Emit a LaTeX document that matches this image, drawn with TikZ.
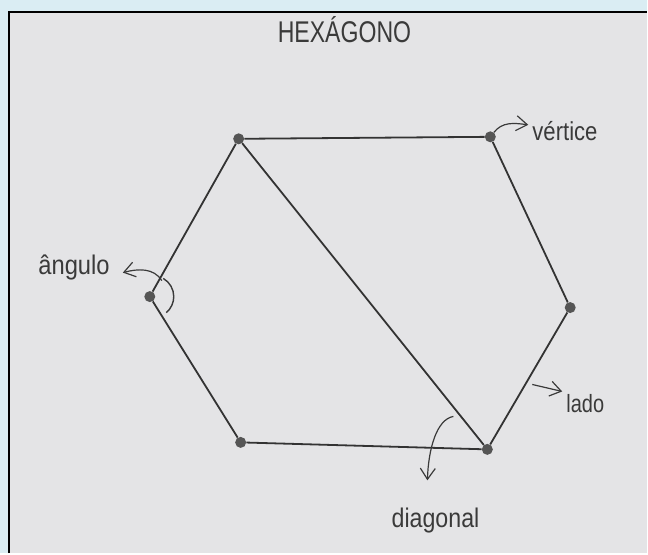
\documentclass[tikz,border=0pt]{standalone}
\usepackage{fontspec}
\setmainfont{Liberation Sans}
\usetikzlibrary{arrows.meta}
\definecolor{bgblue}{HTML}{DAEDF3}
\definecolor{paper}{HTML}{E4E4E6}
\definecolor{pencil}{HTML}{333333}
\definecolor{ink}{HTML}{3A3A3A}
\definecolor{dotc}{HTML}{555555}
\newcommand{\hw}[3]{\scalebox{#2}[1]{\fontsize{#1}{#1}\selectfont #3}}
\begin{document}
\begin{tikzpicture}[x=1pt,y=-1pt,
  side/.style={draw=pencil,line width=1.8pt},
  vtx/.style={circle,fill=dotc,inner sep=0pt,minimum size=11pt},
  lbl/.style={text=ink,inner sep=0pt},
  pointer/.style={draw=ink,line width=1.2pt,-{Straight Barb[length=11pt,width=15pt,line width=1.2pt]}},
  markarc/.style={draw=ink,line width=1.4pt}]
\fill[bgblue] (0,0) rectangle (648,554);
\fill[paper] (9,12) rectangle (648,554);
\draw[black,line width=1.8pt] (9,554) -- (9,12) -- (648,12);
\useasboundingbox (0,0) rectangle (648,554);

% vertices
\node[vtx] (tl) at (239,139) {};
\node[vtx] (tr) at (491,137) {};
\node[vtx] (r)  at (571,308) {};
\node[vtx] (br) at (488,450) {};
\node[vtx] (bl) at (241,443) {};
\node[vtx] (l)  at (150,297) {};

% sides and diagonal
\draw[side] (tl) -- (tr);
\draw[side] (tr) -- (r);
\draw[side] (r) -- (br);
\draw[side] (br) -- (bl);
\draw[side] (bl) -- (l);
\draw[side] (l) -- (tl);
\draw[side] (tl) -- (br);

% title
\node[lbl,anchor=base west] (title) at (278,43) {\hw{30}{0.77}{HEXÁGONO}};

% vértice
\node[lbl,anchor=base west] (vt) at (533,141) {\hw{26}{0.85}{vértice}};
\coordinate (vtip) at (529,125);
\draw[pointer] (tr) .. controls (503,122) and (514,123) .. (vtip);

% ângulo
\node[lbl,anchor=base east] (ang) at (110,275) {\hw{27}{0.88}{ângulo}};
\coordinate (lc) at (153,297);
\draw[markarc] ([shift={(-60:21)}]lc) arc[start angle=-60,end angle=50,radius=21];
\coordinate (astart) at (162,281);
\coordinate (atip) at (123,273);
\draw[pointer] (astart) .. controls (154,268) and (138,269) .. (atip);

% lado
\node[lbl,anchor=base west] (lado) at (567,413) {\hw{25}{0.8}{lado}};
\coordinate (lstart) at (533,385);
\coordinate (ltip) at (563,392);
\draw[pointer] (lstart) -- (ltip);

% diagonal
\node[lbl,anchor=base west] (diag) at (392,528) {\hw{27}{0.86}{diagonal}};
\coordinate (dstart) at (454,417);
\coordinate (dtip) at (428,481);
\draw[pointer] (dstart) .. controls (437,420) and (429,450) .. (dtip);
\end{tikzpicture}
\end{document}
